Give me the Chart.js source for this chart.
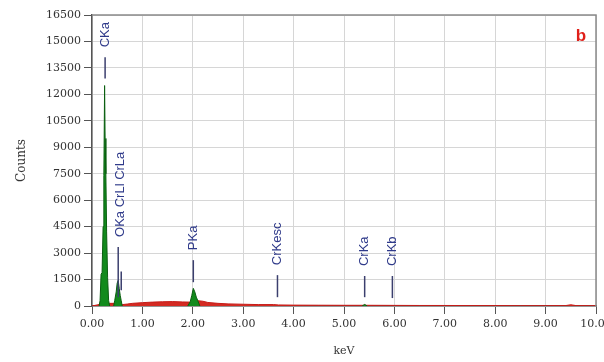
<!DOCTYPE html>
<html>
<head>
<meta charset="utf-8">
<script src="https://cdn.jsdelivr.net/npm/chart.js@4.4.1/dist/chart.umd.min.js"></script>
<style>
  body { margin: 0; background: #fff; }
</style>
</head>
<body>
<canvas id="spectrum-canvas" width="604" height="362"></canvas>
<script>
// continuum (red)
const bgKeV = [0.00, 0.10, 0.20, 0.35, 0.45, 0.60, 0.70, 0.80, 1.00, 1.20, 1.40, 1.60, 1.80, 1.95, 2.10, 2.20, 2.30, 2.50, 2.70, 3.00, 3.30, 3.60, 3.70, 4.00, 4.50, 5.00, 5.50, 6.00, 6.50, 7.00, 7.50, 8.00, 8.50, 9.00, 9.40, 9.50, 9.60, 10.00];
const bgCounts = [0, 60, 120, 150, 150, 80, 110, 150, 190, 220, 240, 250, 230, 220, 300, 270, 200, 150, 120, 100, 80, 80, 60, 50, 45, 40, 40, 35, 30, 30, 25, 25, 20, 20, 25, 70, 25, 15];

// identified peaks (green), null = gap between peaks
const peakKeV = [0.14, 0.16, 0.18, 0.20, 0.22, 0.235, 0.25, 0.26, 0.275, 0.29, 0.31, 0.33, 0.35, 0.40,
                 0.43, 0.45, 0.48, 0.50, 0.52, 0.54, 0.56, 0.58, 0.60, 1.00,
                 1.90, 1.95, 1.98, 2.01, 2.04, 2.07, 2.10, 2.14, 4.00,
                 5.36, 5.41, 5.46];
const peakCounts = [0, 300, 1800, 1900, 4500, 7400, 12500, 9500, 7500, 4200, 1600, 300, 0, null,
                    0, 300, 800, 1300, 1450, 1000, 600, 300, 0, null,
                    0, 250, 600, 1000, 800, 500, 300, 0, null,
                    0, 90, 0];

// line markers
const markerNames = ['CKa', 'OKa CrLl CrLa', '', 'PKa', 'CrKesc', 'CrKa', 'CrKb'];
const markerKeV = [0.26, 0.52, 0.58, 2.01, 3.68, 5.41, 5.96];
const markerTop = [14100, 3350, 1950, 2600, 1750, 1700, 1700];
const markerBottom = [12900, 500, 900, 1350, 500, 500, 450];

const xTicks = [0, 1, 2, 3, 4, 5, 6, 7, 8, 9, 10];
const yTicks = [0, 1500, 3000, 4500, 6000, 7500, 9000, 10500, 12000, 13500, 15000, 16500];

const tickFont = { family: 'DejaVu Serif', size: 11 };

function toPoints(xs, ys) {
    return xs.map((v, i) => ({ x: v, y: ys[i] }));
}

const overlay = {
    id: 'overlay',
    afterDraw(chart) {
        const { ctx, chartArea: a, scales: { x, y } } = chart;
        ctx.save();

        // top and right frame
        ctx.strokeStyle = '#8a8a8a';
        ctx.lineWidth = 1.5;
        ctx.beginPath();
        ctx.moveTo(a.left, a.top);
        ctx.lineTo(a.right, a.top);
        ctx.lineTo(a.right, a.bottom);
        ctx.stroke();

        // marker labels
        ctx.fillStyle = '#2f3a8a';
        ctx.font = '13px "Liberation Sans"';
        ctx.textAlign = 'left';
        ctx.textBaseline = 'middle';
        for (let i = 0; i < markerNames.length; i++) {
            if (!markerNames[i]) continue;
            let px = x.getPixelForValue(markerKeV[i]);
            let py = y.getPixelForValue(markerTop[i]) - 10;
            if (i == 1) px += 2;
            ctx.save();
            ctx.translate(px, py);
            ctx.rotate(-Math.PI / 2);
            ctx.fillText(markerNames[i], 0, 0);
            ctx.restore();
        }

        // panel letter
        ctx.fillStyle = '#e0201a';
        ctx.font = 'bold 17px "Liberation Sans"';
        ctx.textAlign = 'center';
        ctx.fillText('b', a.right - 15, a.top + 21);
        ctx.restore();
    }
};

let datasets = [
    {
        data: toPoints(peakKeV, peakCounts),
        borderColor: '#0a5e10',
        backgroundColor: '#128a1c',
        borderWidth: 1,
        fill: 'origin',
        spanGaps: false
    },
    {
        data: toPoints(bgKeV, bgCounts),
        borderColor: '#c41c18',
        backgroundColor: '#d42a22',
        borderWidth: 1,
        fill: 'origin'
    }
];

for (let i = 0; i < markerKeV.length; i++) {
    datasets.unshift({
        data: [{ x: markerKeV[i], y: markerBottom[i] }, { x: markerKeV[i], y: markerTop[i] }],
        borderColor: '#3b3f6e',
        borderWidth: 1.5,
        fill: false
    });
}

new Chart(document.getElementById('spectrum-canvas'), {
    type: 'line',
    data: { datasets },
    options: {
        responsive: false,
        animation: false,
        layout: { padding: { top: 15, right: 8, left: 0, bottom: 0 } },
        plugins: {
            legend: { display: false },
            tooltip: { enabled: false }
        },
        elements: {
            point: { radius: 0 },
            line: { tension: 0 }
        },
        scales: {
            x: {
                type: 'linear',
                min: xTicks[0],
                max: xTicks[xTicks.length - 1],
                afterBuildTicks(s) { s.ticks = xTicks.map(v => ({ value: v })); },
                ticks: {
                    callback: v => v.toFixed(2),
                    font: tickFont,
                    color: '#333',
                    padding: 4,
                    maxRotation: 0,
                    autoSkip: false
                },
                grid: { color: '#d6d6d6', tickLength: 8, tickColor: '#555' },
                border: { color: '#555', width: 1.5 },
                title: {
                    display: true,
                    text: 'keV',
                    font: { family: 'DejaVu Serif', size: 11 },
                    color: '#333',
                    padding: { top: 4, bottom: 4 }
                },
                afterFit(s) {
                    s.height = 56;
                    s.paddingLeft = 0;
                    s.paddingRight = 0;
                }
            },
            y: {
                min: yTicks[0],
                max: yTicks[yTicks.length - 1],
                afterBuildTicks(s) { s.ticks = yTicks.map(v => ({ value: v })); },
                ticks: {
                    callback: v => String(v),
                    font: tickFont,
                    color: '#333',
                    padding: 3,
                    autoSkip: false
                },
                grid: { color: '#d6d6d6', tickLength: 8, tickColor: '#555' },
                border: { color: '#555', width: 1.5 },
                title: {
                    display: true,
                    text: 'Counts',
                    font: { family: 'DejaVu Serif', size: 12 },
                    color: '#333',
                    padding: { top: 15, bottom: 4 }
                },
                afterFit(s) {
                    s.width = 92;
                    s.paddingTop = 0;
                    s.paddingBottom = 0;
                }
            }
        }
    },
    plugins: [overlay]
});
</script>
</body>
</html>
